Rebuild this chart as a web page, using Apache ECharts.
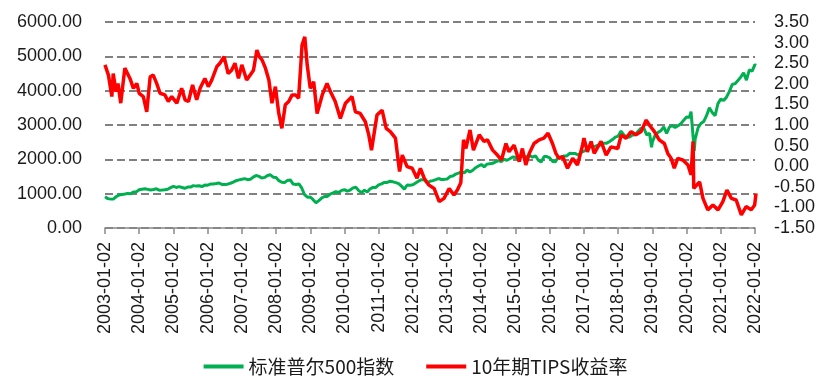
<!DOCTYPE html>
<html><head><meta charset="utf-8">
<script src="https://cdn.jsdelivr.net/npm/echarts@6/dist/echarts.min.js"></script>
<style>html,body{margin:0;padding:0;background:#fff}#c{width:831px;height:383px}</style>
</head><body><div id="c"></div>
<script>
const seriesNames = ['标准普尔500指数', '10年期TIPS收益率'];
const xTickLabels = ['2003-01-02','2004-01-02','2005-01-02','2006-01-02','2007-01-02','2008-01-02','2009-01-02','2010-01-02','2011-01-02','2012-01-02','2013-01-02','2014-01-02','2015-01-02','2016-01-02','2017-01-02','2018-01-02','2019-01-02','2020-01-02','2021-01-02','2022-01-02'];
const firstYear = 2003;
// S&P 500: first observation (2003-01-02), then month-end values Jan 2003 .. Dec 2021
const sp500Start = 909;
const sp500Monthly = [
  856,841,848,917,964,975,990,1008,996,1051,1058,1112,
  1131,1145,1126,1107,1121,1141,1102,1104,1115,1130,1174,1212,
  1181,1204,1181,1157,1192,1191,1234,1220,1229,1207,1250,1248,
  1280,1281,1295,1311,1270,1270,1277,1304,1336,1378,1401,1418,
  1438,1407,1421,1482,1531,1503,1455,1474,1527,1549,1481,1468,
  1379,1331,1323,1386,1400,1280,1267,1283,1166,969,896,903,
  826,735,798,873,919,919,988,1021,1057,1036,1096,1115,
  1074,1105,1169,1187,1089,1031,1102,1049,1141,1183,1181,1258,
  1286,1327,1326,1364,1345,1321,1292,1219,1131,1253,1247,1258,
  1312,1366,1409,1398,1310,1362,1379,1407,1441,1412,1416,1426,
  1498,1515,1569,1598,1631,1606,1686,1633,1682,1757,1806,1848,
  1783,1860,1872,1884,1924,1960,1931,2003,1972,2018,2068,2059,
  1995,2105,2068,2086,2107,2063,2104,1972,1920,2079,2080,2044,
  1940,1932,2060,2065,2097,2099,2174,2171,2168,2126,2199,2239,
  2279,2364,2363,2384,2412,2423,2470,2472,2519,2575,2648,2674,
  2824,2714,2641,2648,2705,2718,2816,2902,2914,2712,2760,2507,
  2704,2785,2834,2946,2752,2942,2980,2927,2977,3038,3141,3231,
  3226,2954,2585,2912,3044,3100,3271,3500,3363,3270,3622,3756,
  3714,3811,3973,4181,4204,4298,4395,4523,4308,4605,4567,4766
];
const sp500Extra = [['2003-03-11',800],['2007-10-09',1565],['2009-03-09',677],['2018-12-24',2351],['2020-02-19',3386],['2020-03-23',2237],['2022-01-10',4740]];
// 10y TIPS yield (dates as decimal years)
const tipsDates = [
  2003.00,2003.10,2003.20,2003.24,2003.32,2003.38,2003.46,2003.58,2003.63,2003.73,2003.83,2003.93,
  2004.00,2004.12,2004.22,2004.32,2004.41,2004.51,2004.61,2004.75,2004.85,2004.95,
  2005.10,2005.24,2005.34,2005.44,2005.56,2005.68,2005.78,2005.92,
  2006.02,2006.12,2006.27,2006.36,2006.48,2006.60,2006.70,2006.80,2006.90,
  2007.00,2007.14,2007.24,2007.34,2007.44,2007.51,2007.59,2007.69,2007.79,2007.88,2007.98,
  2008.08,2008.17,2008.27,2008.37,2008.47,2008.57,2008.66,2008.76,2008.84,2008.91,
  2009.00,2009.10,2009.20,2009.35,2009.49,2009.59,2009.73,2009.88,
  2010.03,2010.22,2010.32,2010.46,2010.61,2010.71,2010.79,2010.95,
  2011.10,2011.22,2011.34,2011.49,2011.61,2011.69,2011.83,2011.98,
  2012.12,2012.22,2012.33,2012.47,2012.62,2012.77,2012.91,
  2013.06,2013.20,2013.30,2013.40,2013.48,2013.55,2013.67,2013.77,2013.94,
  2014.08,2014.18,2014.33,2014.47,2014.59,2014.72,2014.81,2014.96,
  2015.11,2015.20,2015.30,2015.40,2015.54,2015.69,2015.83,2015.95,
  2016.08,2016.18,2016.27,2016.38,2016.52,2016.67,2016.81,2016.96,
  2017.00,2017.10,2017.21,2017.30,2017.50,2017.65,2017.79,2017.99,
  2018.09,2018.23,2018.38,2018.52,2018.67,2018.82,2018.91,
  2019.06,2019.20,2019.35,2019.45,2019.55,2019.64,2019.74,2019.89,
  2020.04,2020.13,2020.19,2020.21,2020.38,2020.48,2020.62,2020.77,2020.92,
  2021.06,2021.18,2021.31,2021.45,2021.60,2021.74,2021.89,2021.99,2022.03
];
const tipsValues = [
  2.46,2.21,1.69,2.25,1.81,2.01,1.53,2.38,2.38,2.13,1.89,2.01,
  1.77,1.69,1.32,2.17,2.21,2.01,1.77,1.73,1.57,1.69,
  1.53,1.89,1.61,1.57,1.97,1.61,1.89,2.13,
  1.93,2.09,2.42,2.50,2.66,2.25,2.33,2.50,2.13,
  2.46,2.09,2.21,2.33,2.82,2.66,2.58,2.38,2.09,1.53,1.93,
  1.28,0.92,1.49,1.57,1.73,1.73,1.65,2.94,3.14,2.46,
  1.89,2.05,1.28,1.73,2.01,1.81,1.57,1.16,
  1.53,1.69,1.32,1.28,1.08,0.76,0.39,1.24,
  1.36,0.92,0.84,0.68,-0.13,0.27,-0.01,-0.05,
  -0.29,-0.05,-0.29,-0.46,-0.54,-0.86,-0.78,
  -0.54,-0.70,-0.58,-0.40,0.64,0.43,0.88,0.39,0.76,
  0.60,0.64,0.39,0.27,0.15,0.55,0.35,0.51,
  0.11,0.43,0.03,0.31,0.55,0.64,0.68,0.80,
  0.55,0.31,0.19,0.23,-0.05,0.19,0.03,0.51,
  0.68,0.35,0.60,0.31,0.60,0.27,0.47,0.43,
  0.76,0.68,0.84,0.76,0.84,1.12,1.00,
  0.84,0.64,0.55,0.31,0.19,-0.05,0.19,0.15,
  0.03,-0.21,0.60,-0.54,-0.38,-0.78,-1.06,-0.94,-1.06,
  -0.86,-0.58,-0.78,-0.82,-1.18,-0.98,-1.06,-0.94,-0.66
];

function toYear(s){const p=s.split('-').map(Number);return p[0]+(p[1]-1)/12+(p[2]-2)/365;}
function buildSp(){
  const pts=[[firstYear,sp500Start]];
  sp500Monthly.forEach((v,i)=>{const y=firstYear+Math.floor(i/12),m=i%12+1;pts.push([y+m/12,v]);});
  sp500Extra.forEach(e=>pts.push([toYear(e[0]),e[1]]));
  pts.sort((a,b)=>a[0]-b[0]);
  return pts;
}
const tipsData = tipsDates.map((t,i)=>[t,tipsValues[i]]);
const numFont='Liberation Sans';
const txt='#1a1a1a';
const chart=echarts.init(document.getElementById('c'),null,{renderer:'canvas'});
chart.setOption({
  animation:false,
  backgroundColor:'#fff',
  grid:{left:105,right:76,top:22,bottom:155,containLabel:false},
  legend:{top:352,left:'center',icon:'rect',itemWidth:40,itemHeight:4,itemGap:32,
    textStyle:{fontSize:19,color:txt,fontFamily:'Noto Sans CJK SC'},data:seriesNames},
  xAxis:{type:'value',min:2003,max:2022,interval:1,
    axisLine:{show:true,onZero:false,lineStyle:{color:'#898989',width:1.5}},
    axisTick:{show:true,length:6,lineStyle:{color:'#898989',width:1.5}},
    splitLine:{show:false},
    axisLabel:{rotate:90,fontSize:18,fontFamily:numFont,color:txt,margin:14,
      formatter:v=>xTickLabels[Math.round(v-firstYear)]||''}},
  yAxis:[
    {type:'value',min:0,max:6000,interval:1000,position:'left',
     axisLine:{show:false},axisTick:{show:false},
     axisLabel:{fontSize:18,fontFamily:numFont,color:txt,margin:23,formatter:v=>v.toFixed(2)},
     splitLine:{show:true,lineStyle:{color:'#808080',width:2,type:[8,4]}}},
    {type:'value',min:-1.5,max:3.5,interval:0.5,position:'right',
     axisLine:{show:false},axisTick:{show:false},splitLine:{show:false},
     axisLabel:{fontSize:18,fontFamily:numFont,color:txt,margin:19,formatter:v=>v.toFixed(2)}}
  ],
  series:[
    {name:seriesNames[0],type:'line',yAxisIndex:0,showSymbol:false,clip:false,
     color:'#00B050',lineStyle:{width:3,color:'#00B050'},data:buildSp()},
    {name:seriesNames[1],type:'line',yAxisIndex:1,showSymbol:false,clip:false,
     color:'#FF0000',lineStyle:{width:3.5,color:'#FF0000'},data:tipsData}
  ]
});
</script></body></html>
